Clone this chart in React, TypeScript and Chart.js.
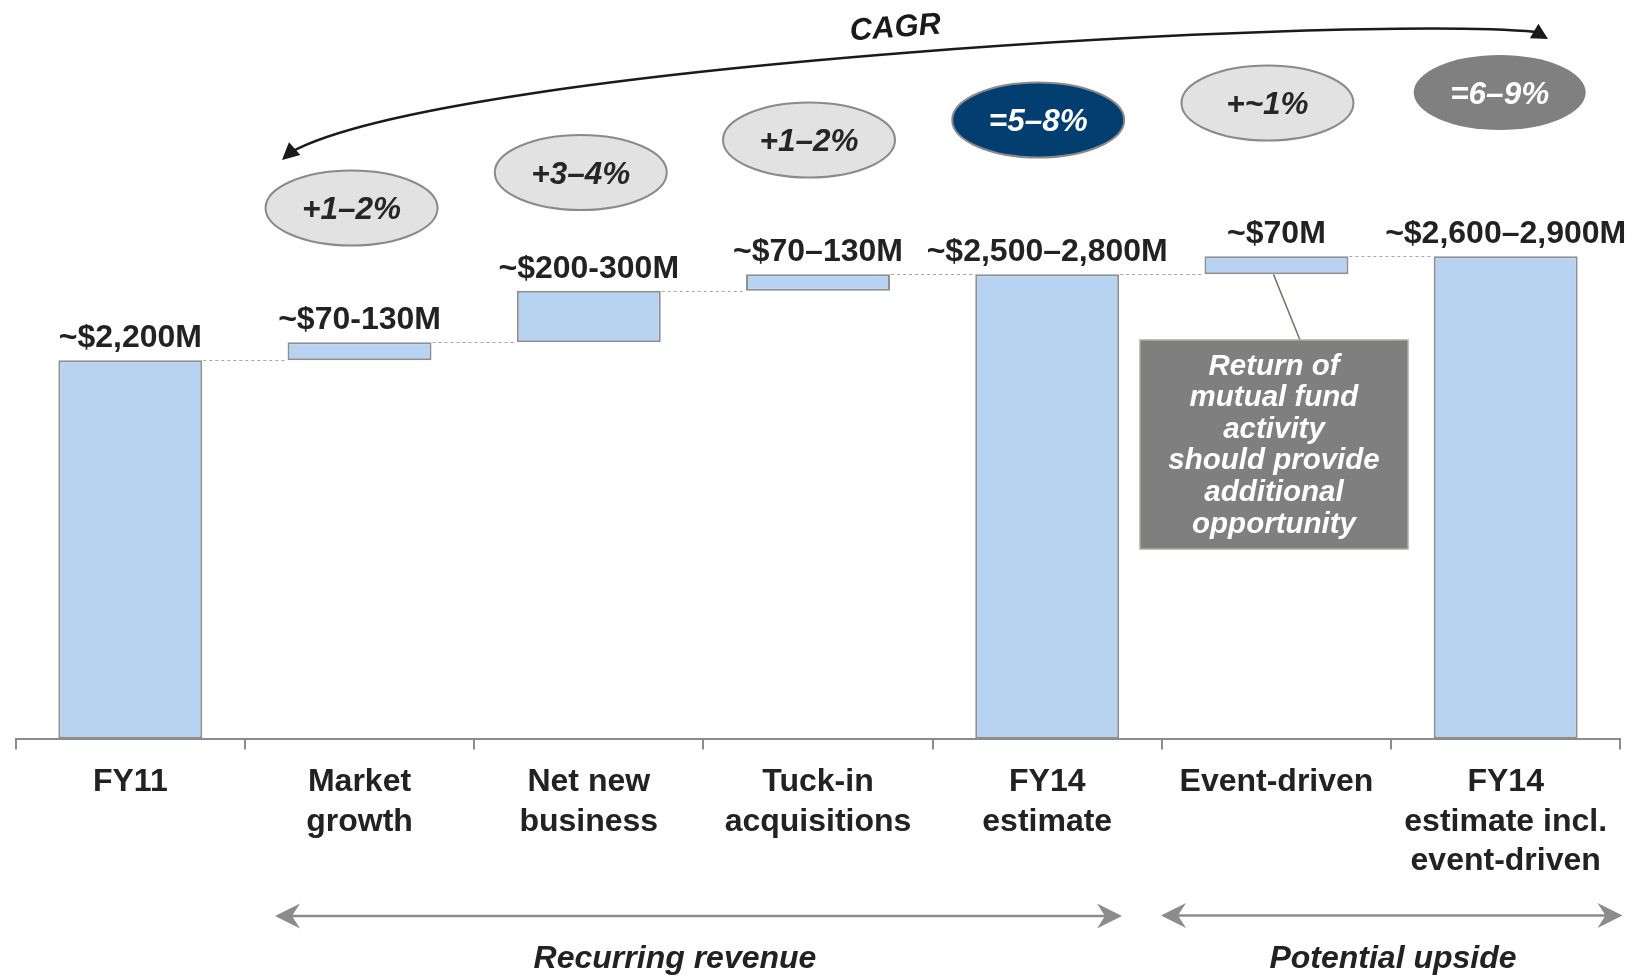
import React, { useEffect, useRef } from "react";
import { Chart, registerables } from "chart.js";

Chart.register(...registerables);

// ---------- data ----------
const categories: string[][] = [
  ["FY11"],
  ["Market", "growth"],
  ["Net new", "business"],
  ["Tuck-in", "acquisitions"],
  ["FY14", "estimate"],
  ["Event-driven"],
  ["FY14", "estimate incl.", "event-driven"],
];
const barStart = [0, 2200, 2305, 2605, 0, 2700, 0];
const barEnd = [2200, 2305, 2605, 2700, 2700, 2805, 2805];
const valueLabels = [
  "~$2,200M",
  "~$70-130M",
  "~$200-300M",
  "~$70–130M",
  "~$2,500–2,800M",
  "~$70M",
  "~$2,600–2,900M",
];
// growth bubbles for categories 1..6
const growthLabels = ["+1–2%", "+3–4%", "+1–2%", "=5–8%", "+~1%", "=6–9%"];
const growthKinds = ["light", "light", "light", "navy", "light", "gray"];
const cagrLabel = "CAGR";
const noteLines = ["Return of", "mutual fund", "activity", "should provide", "additional", "opportunity"];
const groupLabels = ["Recurring revenue", "Potential upside"];

const FONT = "'Liberation Sans', Arial, Helvetica, sans-serif";
const TEXT = "#222222";

function arrowHead(ctx: CanvasRenderingContext2D, tx: number, ty: number, ang: number, len: number, hw: number, notch = 0) {
  const c = Math.cos(ang), s = Math.sin(ang);
  const bx = tx - len * c, by = ty - len * s;
  ctx.beginPath();
  ctx.moveTo(tx, ty);
  ctx.lineTo(bx - hw * s, by + hw * c);
  ctx.lineTo(tx - (len - notch) * c, ty - (len - notch) * s);
  ctx.lineTo(bx + hw * s, by - hw * c);
  ctx.closePath();
  ctx.fill();
}

const annotations = {
  id: "annotations",
  afterDraw(chart: any) {
    const ctx: CanvasRenderingContext2D = chart.ctx;
    const xs = chart.scales.x;
    const ys = chart.scales.y;
    const bars = chart.getDatasetMeta(0).data;
    ctx.save();

    // dotted connectors
    ctx.strokeStyle = "#a6a6a6";
    ctx.lineWidth = 1;
    ctx.setLineDash([3, 3]);
    for (let i = 0; i < bars.length - 1; i++) {
      const y = Math.round(ys.getPixelForValue(barEnd[i])) + 0.5;
      const a = bars[i], b = bars[i + 1];
      ctx.beginPath();
      ctx.moveTo(a.x + a.width / 2 + 1, y);
      ctx.lineTo(b.x - b.width / 2 - 1, y);
      ctx.stroke();
    }
    ctx.setLineDash([]);

    // value labels
    ctx.fillStyle = TEXT;
    ctx.font = `bold 32px ${FONT}`;
    ctx.textAlign = "center";
    ctx.textBaseline = "alphabetic";
    bars.forEach((bar: any, i: number) => {
      ctx.fillText(valueLabels[i], bar.x, ys.getPixelForValue(barEnd[i]) - 13);
    });

    // growth bubbles
    const bubbleY = [208, 172.5, 140, 120, 103, 92.5];
    const bubbleDx = [-8, -8, -9, -9, -9, -6];
    growthLabels.forEach((lab, k) => {
      const cx = xs.getPixelForValue(k + 1) + bubbleDx[k];
      const cy = bubbleY[k];
      const kind = growthKinds[k];
      ctx.beginPath();
      ctx.ellipse(cx, cy, 86, 37.5, 0, 0, Math.PI * 2);
      ctx.fillStyle = kind === "navy" ? "#023e70" : kind === "gray" ? "#808080" : "#e2e2e2";
      ctx.fill();
      if (kind !== "gray") {
        ctx.strokeStyle = "#8a8a8a";
        ctx.lineWidth = 2;
        ctx.stroke();
      }
      ctx.fillStyle = kind === "light" ? "#262626" : "#ffffff";
      ctx.font = `italic bold 31.5px ${FONT}`;
      ctx.textAlign = "center";
      ctx.fillText(lab, cx, cy + 11);
    });

    // CAGR curve
    ctx.strokeStyle = "#1a1a1a";
    ctx.fillStyle = "#1a1a1a";
    ctx.lineWidth = 2.5;
    ctx.beginPath();
    ctx.moveTo(291, 152);
    ctx.bezierCurveTo(450, 65, 1350, 15, 1536, 32);
    ctx.stroke();
    arrowHead(ctx, 282, 160, (138 * Math.PI) / 180, 17, 8.5);
    arrowHead(ctx, 1548, 39, (30 * Math.PI) / 180, 16, 8.5);
    ctx.save();
    ctx.translate(896, 37);
    ctx.rotate(-0.075);
    ctx.font = `italic bold 31px ${FONT}`;
    ctx.textAlign = "center";
    ctx.fillText(cagrLabel, 0, 0);
    ctx.restore();

    // callout
    const ev = bars[5];
    ctx.strokeStyle = "#7b7068";
    ctx.lineWidth = 1.5;
    ctx.beginPath();
    ctx.moveTo(ev.x - 3, ev.base);
    ctx.lineTo(1300, 340);
    ctx.stroke();
    ctx.fillStyle = "#7f7f7f";
    ctx.fillRect(1140, 340, 268, 209);
    ctx.strokeStyle = "#b3aaa2";
    ctx.lineWidth = 1.5;
    ctx.strokeRect(1140, 340, 268, 209);
    ctx.fillStyle = "#ffffff";
    ctx.font = `italic bold 29.5px ${FONT}`;
    ctx.textAlign = "center";
    noteLines.forEach((ln, k) => ctx.fillText(ln, 1274, 374.5 + 31.6 * k));

    // group arrows
    ctx.strokeStyle = "#8c8c8c";
    ctx.fillStyle = "#8c8c8c";
    ctx.lineWidth = 2.5;
    const groups = [
      { x1: 275, x2: 1122, y: 916, tx: 675 },
      { x1: 1161, x2: 1622.5, y: 915.5, tx: 1393 },
    ];
    groups.forEach((g) => {
      ctx.beginPath();
      ctx.moveTo(g.x1 + 10, g.y);
      ctx.lineTo(g.x2 - 10, g.y);
      ctx.stroke();
      arrowHead(ctx, g.x1, g.y, Math.PI, 25, 12.5, 8);
      arrowHead(ctx, g.x2, g.y, 0, 25, 12.5, 8);
    });
    ctx.fillStyle = TEXT;
    ctx.font = `italic bold 32px ${FONT}`;
    groups.forEach((g, k) => ctx.fillText(groupLabels[k], g.tx, 968));

    ctx.restore();
  },
};

export default function App() {
  const ref = useRef<HTMLCanvasElement | null>(null);
  useEffect(() => {
    document.body.style.margin = "0";
    const canvas = ref.current!;
    const chart = new Chart(canvas, {
      type: "bar",
      data: {
        labels: categories,
        datasets: [
          {
            data: categories.map((_, i) => [barStart[i], barEnd[i]]) as any,
            backgroundColor: "#b8d3f1",
            borderColor: "#8f8f8f",
            borderWidth: 2,
            borderSkipped: false,
            barPercentage: 0.628,
            categoryPercentage: 1,
          },
        ],
      },
      options: {
        animation: false,
        responsive: false,
        events: [],
        layout: { padding: { top: 50.9, left: 15.7, right: 16.7, bottom: 0 } },
        plugins: { legend: { display: false }, tooltip: { enabled: false } },
        scales: {
          x: {
            afterFit(scale: any) {
              scale.height = 237.5;
            },
            grid: {
              offset: true,
              drawOnChartArea: false,
              drawTicks: true,
              tickLength: 11,
              color: "#8c8c8c",
              lineWidth: 2,
            },
            border: { display: true, color: "#8c8c8c", width: 2 },
            ticks: {
              autoSkip: false,
              maxRotation: 0,
              minRotation: 0,
              padding: 13.5,
              color: TEXT,
              font: { family: FONT, weight: "bold", size: 32, lineHeight: 1.225 },
            },
          },
          y: {
            display: false,
            min: 0,
            max: 4000,
          },
        },
      },
      plugins: [annotations],
    });
    return () => chart.destroy();
  }, []);
  return (
    <div style={{ width: 1637, height: 976, position: "relative" }}>
      <canvas ref={ref} width={1637} height={976} style={{ display: "block" }} />
    </div>
  );
}
